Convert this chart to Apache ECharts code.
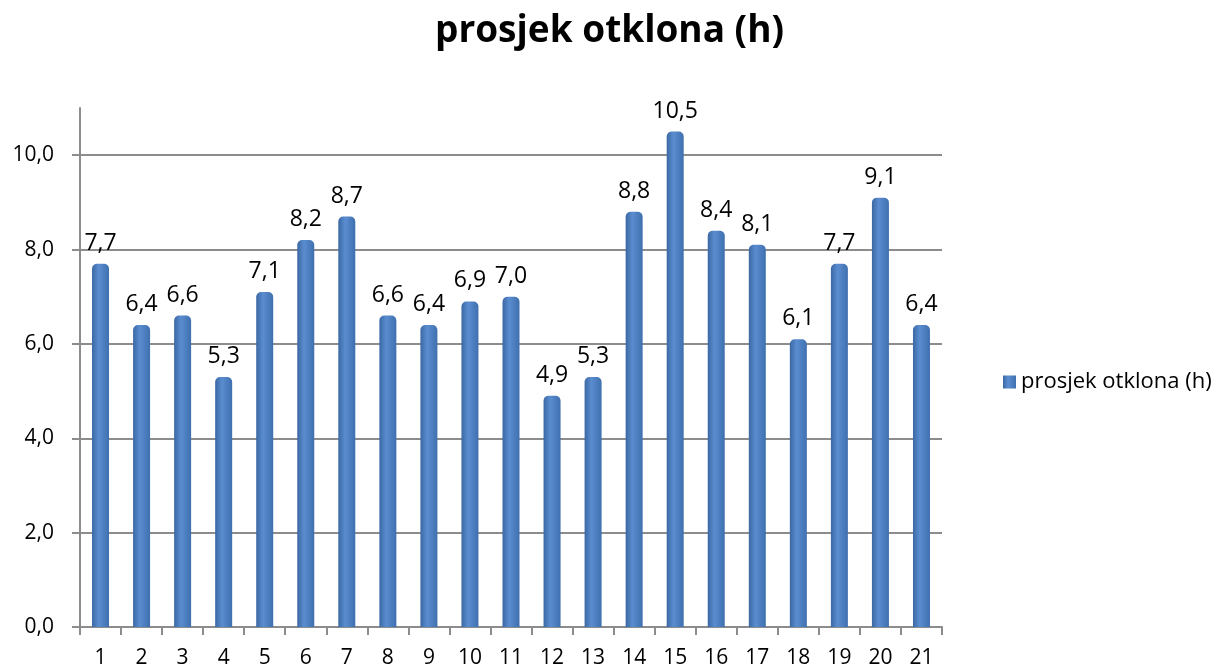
<!DOCTYPE html>
<html>
<head>
<meta charset="utf-8">
<script src="https://cdn.jsdelivr.net/npm/echarts@6/dist/echarts.min.js"></script>
<style>
  html, body { margin: 0; padding: 0; background: #fff; }
  #chart { width: 1219px; height: 671px; }
</style>
</head>
<body>
<div id="chart"></div>
<script>
// podaci
var categories = ["1", "2", "3", "4", "5", "6", "7", "8", "9", "10", "11", "12", "13", "14", "15", "16", "17", "18", "19", "20", "21"];
var values = [7.7, 6.4, 6.6, 5.3, 7.1, 8.2, 8.7, 6.6, 6.4, 6.9, 7.0, 4.9, 5.3, 8.8, 10.5, 8.4, 8.1, 6.1, 7.7, 9.1, 6.4];
var yTicks = [0, 2, 4, 6, 8, 10];
var seriesName = "prosjek otklona (h)";

var font = "'Open Sans', 'DejaVu Sans', sans-serif";
var chart = echarts.init(document.getElementById("chart"));

chart.setOption({
  animation: false,
  title: {
    text: "prosjek otklona (h)",
    left: "center",
    top: 8,
    textStyle: { fontFamily: font, fontSize: 37, fontWeight: "bold", color: "#000" }
  },
  legend: {
    data: [seriesName],
    left: 998,
    top: 366,
    icon: "rect",
    itemWidth: 13,
    itemHeight: 13,
    itemGap: 8,
    textStyle: { fontFamily: font, fontSize: 22, color: "#000" }
  },
  grid: { left: 80, right: 277, top: 108, bottom: 44 },
  xAxis: {
    type: "category",
    data: categories,
    axisLine: { lineStyle: { color: "#8c8c8c", width: 2 } },
    axisTick: { show: true, length: 8, lineStyle: { color: "#8c8c8c", width: 2 } },
    axisLabel: { fontFamily: font, fontSize: 21, color: "#000", margin: 21 }
  },
  yAxis: {
    type: "value",
    min: 0,
    max: 11,
    interval: 2,
    axisLine: { show: true, lineStyle: { color: "#8c8c8c", width: 2 } },
    axisTick: { show: true, length: 8, lineStyle: { color: "#8c8c8c", width: 2 } },
    axisLabel: {
      fontFamily: font,
      fontSize: 21,
      color: "#000",
      margin: 26,
      showMaxLabel: false,
      formatter: function (v) { return yTicks.indexOf(v) >= 0 ? v.toFixed(1).replace(".", ",") : ""; }
    },
    splitLine: { show: true, showMaxLine: false, lineStyle: { color: "#8c8c8c", width: 2 } }
  },
  series: [
    {
      name: seriesName,
      type: "bar",
      data: values,
      barWidth: 17,
      itemStyle: {
        borderRadius: [5, 5, 0, 0],
        color: new echarts.graphic.LinearGradient(0, 0, 1, 0, [
          { offset: 0, color: "#3b68a3" },
          { offset: 0.4, color: "#5a8dd0" },
          { offset: 1, color: "#3f6fae" }
        ])
      },
      label: {
        show: true,
        position: "top",
        distance: 9,
        fontFamily: font,
        fontSize: 23,
        color: "#000",
        formatter: function (p) { return p.value.toFixed(1).replace(".", ","); }
      }
    }
  ]
});
</script>
</body>
</html>
